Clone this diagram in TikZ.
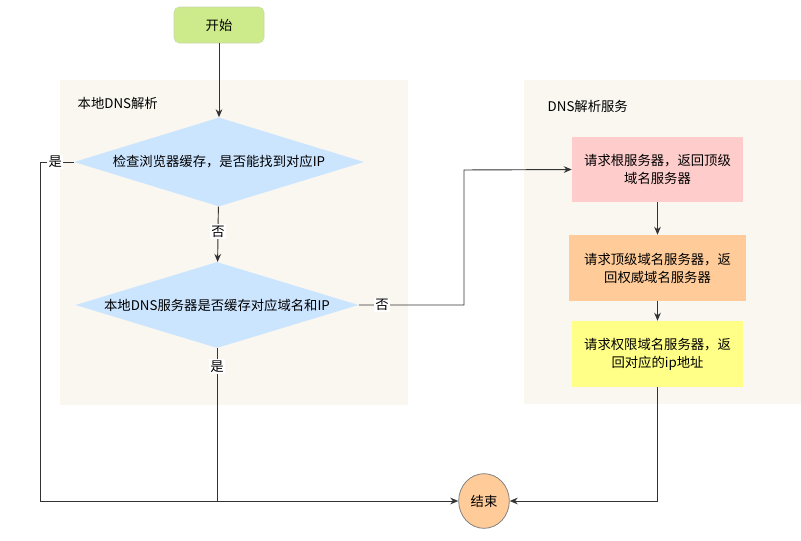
\documentclass[tikz,border=0pt]{standalone}
\usepackage{fontspec}
\setmainfont{Noto Sans CJK SC}
\usetikzlibrary{shapes.geometric,arrows.meta}
\definecolor{startgreen}{HTML}{CDEB8B}
\definecolor{panel}{HTML}{F9F7F0}
\definecolor{diam}{HTML}{CCE5FF}
\definecolor{rootc}{HTML}{FFCCCC}
\definecolor{tldc}{HTML}{FFCC99}
\definecolor{authc}{HTML}{FFFF88}
\definecolor{lineg}{HTML}{333333}
\tikzset{
  txt/.style={font=\fontsize{10}{13.5}\selectfont, text=black},
  decision/.style={txt, shape=diamond, fill=diam, draw=none, aspect=3.3, inner sep=0,
    minimum width=#1},
  procbox/.style={txt, fill=#1, draw=none, align=center, inner sep=0,
    text width=128pt},
  conn/.style={draw=lineg, line width=0.7pt},
  arr/.style={conn, -{Stealth[length=6pt,width=5pt]}},
  lbl/.style={txt, fill=white, inner sep=1pt},
}
\begin{document}
\begin{tikzpicture}[x=0.75pt,y=-0.75pt]
\useasboundingbox (0,0) rectangle (801,540);
% panels
\fill[panel] (60,80) rectangle (408,405);
\fill[panel] (524,80) rectangle (801,404);
\node[txt, anchor=west] (lpanel) at (73,103) {本地DNS解析};
\node[txt, anchor=west] (rpanel) at (543,106) {DNS解析服务};
% start
\node[txt, fill=startgreen, draw=startgreen!80!black!60, rounded corners=4pt,
  minimum width=67.5pt, minimum height=27pt, inner sep=0] (start) at (219,25) {开始};
% decisions
\node[decision=217.5pt, minimum height=66.75pt] (d1) at (219,162) {检查浏览器缓存，是否能找到对应IP};
\node[decision=212.25pt, minimum height=64.5pt] (d2) at (217,305) {本地DNS服务器是否缓存对应域名和IP};
% process boxes
\node[procbox=rootc, minimum width=128.25pt, minimum height=48.75pt] (root) at (657.5,169.5) {请求根服务器，返回顶级\\域名服务器};
\node[procbox=tldc, minimum width=132.75pt, minimum height=49.5pt] (tld) at (657.5,268) {请求顶级域名服务器，返\\回权威域名服务器};
\node[procbox=authc, minimum width=128.25pt, minimum height=49.5pt] (auth) at (657.5,354) {请求权限域名服务器，返\\回对应的ip地址};
% end
\node[txt, ellipse, fill=tldc, draw=gray, line width=0.6pt, minimum width=38pt,
  minimum height=41pt, inner sep=0] (end) at (484,501) {结束};
% helper coordinates
\coordinate (c1) at (40,162);
\coordinate (c2) at (40,501);
\coordinate (c3) at (217,501);
\coordinate (c4) at (464,305);
\coordinate (c5) at (464,170);
\coordinate (c6) at (657.5,501);
% connectors
\draw[arr] (start) -- (d1);
\draw[arr] (d1) -- node[lbl, pos=0.45] {否} (d2);
\draw[conn] (d1.west) -- node[lbl, pos=0.55] {是} (c1) -- (c2) -- (c3);
\draw[arr] (c3) -- (end.west);
\draw[conn] (d2.south) -- node[lbl, pos=0.12] {是} (c3);
\draw[arr] (d2.east) -- node[lbl, pos=0.22] {否} (c4) -- (c5) -- (root.west);
\draw[arr] (root) -- (tld);
\draw[arr] (tld) -- (auth);
\draw[arr] (auth.south) -- (c6) -- (end.east);
\end{tikzpicture}
\end{document}
